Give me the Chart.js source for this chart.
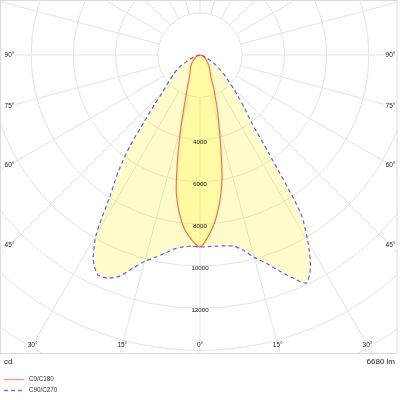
<!DOCTYPE html>
<html><head><meta charset="utf-8">
<script src="https://cdn.jsdelivr.net/npm/chart.js@4"></script>
<style>html,body{margin:0;padding:0;background:#fff}canvas{display:block}</style>
</head><body>
<canvas id="c" width="400" height="400"></canvas>
<script>
// ---- data (gamma angle in degrees, luminous intensity in cd) ----
const angles = [0,2.5,5,7.5,10,12.5,15,17.5,20,22.5,25,27.5,30,32.5,35,37.5,40,42.5,45,50,55,60,65,70,75,80,85,90];
const c0   = [9100,8620,7970,7080,6010,4580,3490,2750,2120,1710,1310,1100,980,880,800,730,660,580,500,410,330,260,200,150,100,60,30,0];
const c180 = [9100,8780,8300,7550,6490,4800,3420,2430,1860,1480,1200,1050,950,870,800,740,680,610,540,430,340,260,200,150,100,60,30,0];
const c90  = [9100,9090,9090,9120,9200,9470,9940,10330,10860,11420,11920,11340,10220,8870,5680,3970,3290,2680,2250,1560,1080,700,420,250,130,60,20,0];
const c270 = [9100,9070,9130,9270,9535,9820,10130,10600,11150,11450,11480,10950,9850,7950,6750,5490,4090,3190,2550,1890,1480,1090,650,380,200,90,30,0];
const ringValues = [2000,4000,6000,8000,10000,12000,14000,16000,18000,20000];
const ringLabels = [4000,6000,8000,10000,12000];
const spokeAngles = [0,15,30,45,60,75,90,105,120,135,150,165,180,195,210,225,240,255,270,285,300,315,330,345];
const angleLabels = [0,15,30,45,60,75,90];
const seriesNames = ['C0/C180','C90/C270'];
const unitText = 'cd';
const fluxText = '6680 lm';

// ---- layout constants ----
const PX_PER_CD = 0.0211;
const CX = 200, CY = 55, AREA_R = 397, AREA_B = 353;

function curve(left, right) {
  const pts = [];
  for (let i = angles.length - 1; i >= 0; i--) {
    const a = angles[i] * Math.PI / 180;
    pts.push({x: -left[i] * Math.sin(a), y: -left[i] * Math.cos(a)});
  }
  for (let i = 1; i < angles.length; i++) {
    const a = angles[i] * Math.PI / 180;
    pts.push({x: right[i] * Math.sin(a), y: -right[i] * Math.cos(a)});
  }
  return pts;
}

const FONT = '"Liberation Sans", Arial, sans-serif';
const FILL = 'rgba(255,240,0,0.2)';
const GRID = '#e3e3e3';

const polarPlugin = {
  id: 'polarGrid',
  beforeDatasetsDraw(chart) {
    const {ctx, chartArea: ar} = chart;
    const xs = chart.scales.x, ys = chart.scales.y;
    const cx = xs.getPixelForValue(0), cy = ys.getPixelForValue(0);
    const rOf = v => xs.getPixelForValue(v) - cx;
    ctx.save();
    ctx.beginPath(); ctx.rect(ar.left, ar.top, ar.right - ar.left, ar.bottom - ar.top); ctx.clip();
    ctx.strokeStyle = GRID; ctx.lineWidth = 1;
    ringValues.forEach(v => { ctx.beginPath(); ctx.arc(cx, cy, rOf(v), 0, Math.PI * 2); ctx.stroke(); });
    const r0 = rOf(ringValues[0]), r1 = rOf(ringValues[ringValues.length - 1]);
    spokeAngles.forEach(d => {
      const a = d * Math.PI / 180, s = Math.sin(a), c = Math.cos(a);
      ctx.beginPath(); ctx.moveTo(cx + r0 * s, cy + r0 * c); ctx.lineTo(cx + r1 * s, cy + r1 * c); ctx.stroke();
    });
    // fills of the closed curves
    chart.data.datasets.forEach((ds, i) => {
      const meta = chart.getDatasetMeta(i);
      ctx.beginPath();
      meta.dataset.path(ctx);
      ctx.closePath();
      ctx.fillStyle = FILL;
      ctx.fill();
    });
    ctx.restore();
  },
  afterDatasetsDraw(chart) {
    const {ctx} = chart;
    const xs = chart.scales.x, ys = chart.scales.y;
    const cx = xs.getPixelForValue(0), cy = ys.getPixelForValue(0);
    ctx.save();
    ctx.fillStyle = '#222';
    ctx.font = '6.2px ' + FONT;
    ctx.textAlign = 'center'; ctx.textBaseline = 'middle';
    ringLabels.forEach(v => {
      ctx.fillText(String(v), cx, ys.getPixelForValue(-v) + 2.5);
    });
    // angle labels at the spokes' ends
    ctx.font = '6.5px ' + FONT;
    const sideOff = 190.5, botOff = 290;
    angleLabels.forEach(d => {
      const a = d * Math.PI / 180, s = Math.sin(a), c = Math.cos(a);
      const tSide = s > 1e-6 ? sideOff / s : Infinity;
      const tBot = c > 1e-6 ? botOff / c : Infinity;
      const t = Math.min(tSide, tBot);
      const dx = t * s, dy = t * c;
      const txt = d + '°';
      const w = ctx.measureText(txt).width;
      [-1, 1].forEach(sg => {
        if (d === 0 && sg === 1) return;
        const px = cx + sg * dx, py = cy + dy;
        ctx.fillStyle = '#fff';
        ctx.fillRect(px - w / 2 - 1, py - 4, w + 2, 8);
        ctx.fillStyle = '#222';
        ctx.fillText(txt, px, py);
      });
    });
    ctx.restore();
  },
  afterDraw(chart) {
    const {ctx, chartArea: ar} = chart;
    ctx.save();
    ctx.strokeStyle = '#dcdcdc'; ctx.lineWidth = 1;
    ctx.strokeRect(ar.left + 0.5, ar.top + 0.5, ar.right - ar.left - 0.5, ar.bottom - ar.top);
    ctx.fillStyle = '#222';
    ctx.font = '8px ' + FONT; ctx.textBaseline = 'middle';
    ctx.textAlign = 'left'; ctx.fillText(unitText, 4, 362);
    ctx.textAlign = 'right'; ctx.fillText(fluxText, 395, 362);
    // legend
    ctx.font = '6.3px ' + FONT; ctx.textAlign = 'left';
    chart.data.datasets.forEach((ds, i) => {
      const y = 379.5 + i * 11;
      ctx.strokeStyle = ds.legendColor; ctx.lineWidth = 1.3;
      ctx.setLineDash(ds.borderDash || []);
      ctx.beginPath(); ctx.moveTo(4, y); ctx.lineTo(24, y); ctx.stroke();
      ctx.setLineDash([]);
      ctx.fillStyle = '#333';
      ctx.fillText(ds.label, 29, y);
    });
    ctx.restore();
  }
};

new Chart(document.getElementById('c'), {
  type: 'scatter',
  data: {
    datasets: [
      {label: seriesNames[0], data: curve(c180, c0), showLine: true, pointRadius: 0,
       borderColor: 'rgba(255,60,40,0.75)', legendColor: 'rgba(255,120,120,0.8)', borderWidth: 1.2, tension: 0.3, fill: false},
      {label: seriesNames[1], data: curve(c270, c90), showLine: true, pointRadius: 0,
       borderColor: 'rgb(95,95,255)', legendColor: 'rgb(120,120,255)', borderWidth: 1.2, borderDash: [4, 3], tension: 0.25, fill: false}
    ]
  },
  options: {
    responsive: false, animation: false, events: [],
    layout: {padding: {left: 0, top: 0, right: 400 - AREA_R, bottom: 400 - AREA_B}},
    plugins: {legend: {display: false}, tooltip: {enabled: false}},
    scales: {
      x: {type: 'linear', display: false, min: -CX / PX_PER_CD, max: (AREA_R - CX) / PX_PER_CD},
      y: {type: 'linear', display: false, min: -(AREA_B - CY) / PX_PER_CD, max: CY / PX_PER_CD}
    }
  },
  plugins: [polarPlugin]
});
</script>
</body></html>
